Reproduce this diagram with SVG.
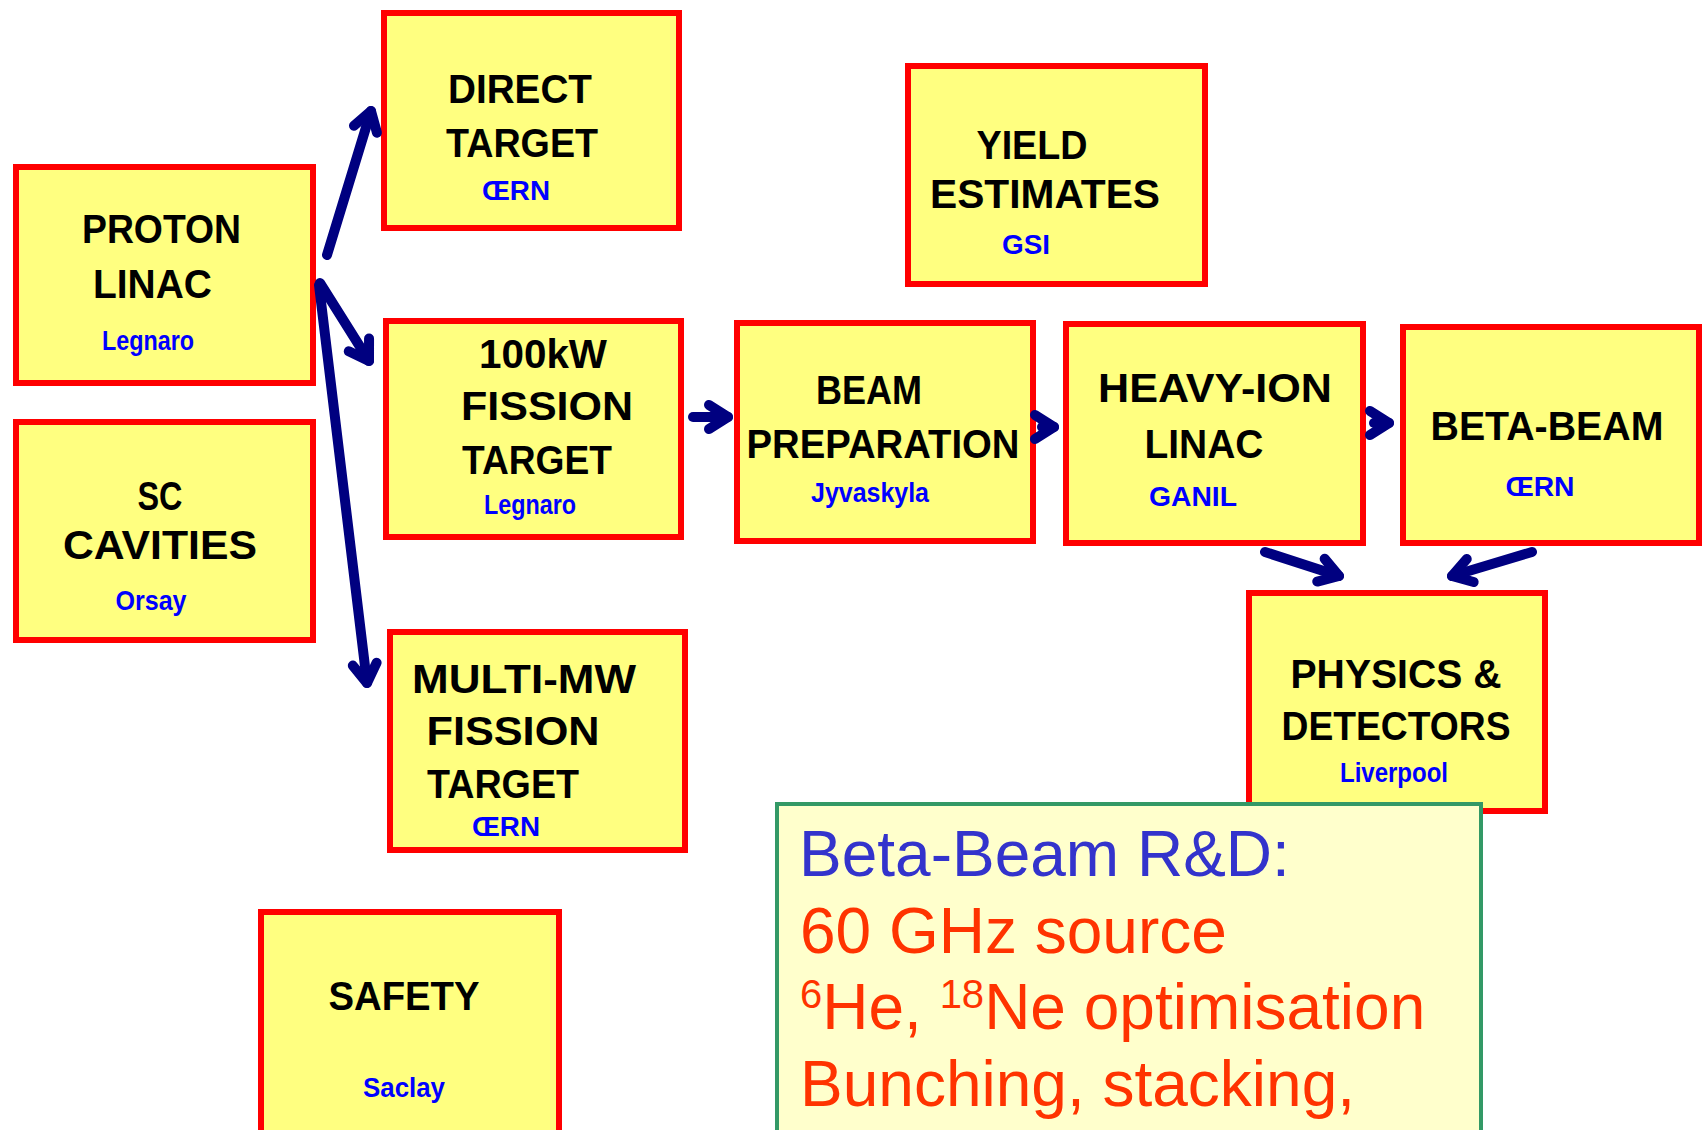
<svg xmlns="http://www.w3.org/2000/svg" width="1703" height="1130" viewBox="0 0 1703 1130">
<style>
.box{fill:#ffff80;stroke:#ff0000;stroke-width:6}
.lbl{font-family:"Liberation Sans",Arial,sans-serif;font-weight:bold;font-size:40px;fill:#000;text-anchor:middle}
.sub{font-family:"Liberation Sans",Arial,sans-serif;font-weight:bold;font-size:27px;fill:#0000ff;text-anchor:middle}
.conn{fill:none;stroke:#000080;stroke-width:10;stroke-linecap:round;stroke-linejoin:round;marker-end:url(#ah)}
.note{fill:#ffffcc;stroke:#339966;stroke-width:4}
.nt{font-family:"Liberation Sans",Arial,sans-serif;font-size:64px}
</style>
<defs>
<marker id="ah" markerUnits="userSpaceOnUse" orient="auto" viewBox="-30 -30 60 60" markerWidth="60" markerHeight="60" refX="0" refY="0">
<path d="M-19,-12 L0,0 L-19,12" fill="none" stroke="#000080" stroke-width="10" stroke-linecap="round" stroke-linejoin="round"/>
</marker>
</defs>
<rect width="1703" height="1130" fill="#ffffff"/>

<g id="proton-linac">
<rect class="box" x="16" y="167" width="297" height="216"/>
<text class="lbl" x="161.5" y="243" textLength="159" lengthAdjust="spacingAndGlyphs">PROTON</text>
<text class="lbl" x="152.5" y="298" textLength="119" lengthAdjust="spacingAndGlyphs">LINAC</text>
<text class="sub" x="148" y="350" textLength="92" lengthAdjust="spacingAndGlyphs">Legnaro</text>
</g>

<g id="direct-target">
<rect class="box" x="384" y="13" width="295" height="215"/>
<text class="lbl" x="520" y="103" textLength="144" lengthAdjust="spacingAndGlyphs">DIRECT</text>
<text class="lbl" x="522" y="157" textLength="152" lengthAdjust="spacingAndGlyphs">TARGET</text>
<text class="sub" x="516" y="200" textLength="68" lengthAdjust="spacingAndGlyphs">ŒRN</text>
</g>

<g id="yield-estimates">
<rect class="box" x="908" y="66" width="297" height="218"/>
<text class="lbl" x="1032" y="159" textLength="111" lengthAdjust="spacingAndGlyphs">YIELD</text>
<text class="lbl" x="1045" y="208" textLength="230" lengthAdjust="spacingAndGlyphs">ESTIMATES</text>
<text class="sub" x="1026" y="254" textLength="48" lengthAdjust="spacingAndGlyphs">GSI</text>
</g>

<g id="sc-cavities">
<rect class="box" x="16" y="422" width="297" height="218"/>
<text class="lbl" x="160" y="510" textLength="45" lengthAdjust="spacingAndGlyphs">SC</text>
<text class="lbl" x="160" y="559" textLength="194" lengthAdjust="spacingAndGlyphs">CAVITIES</text>
<text class="sub" x="151" y="610" textLength="71" lengthAdjust="spacingAndGlyphs">Orsay</text>
</g>

<g id="fission-100kw">
<rect class="box" x="386" y="321" width="295" height="216"/>
<text class="lbl" x="543" y="368" textLength="128" lengthAdjust="spacingAndGlyphs">100kW</text>
<text class="lbl" x="547" y="420" textLength="172" lengthAdjust="spacingAndGlyphs">FISSION</text>
<text class="lbl" x="537" y="474" textLength="150" lengthAdjust="spacingAndGlyphs">TARGET</text>
<text class="sub" x="530" y="514" textLength="92" lengthAdjust="spacingAndGlyphs">Legnaro</text>
</g>

<g id="beam-preparation">
<rect class="box" x="737" y="323" width="296" height="218"/>
<text class="lbl" x="869" y="404" textLength="106" lengthAdjust="spacingAndGlyphs">BEAM</text>
<text class="lbl" x="883" y="458" textLength="273" lengthAdjust="spacingAndGlyphs">PREPARATION</text>
<text class="sub" x="870" y="502" textLength="118" lengthAdjust="spacingAndGlyphs">Jyvaskyla</text>
</g>

<g id="heavy-ion-linac">
<rect class="box" x="1066" y="324" width="297" height="219"/>
<text class="lbl" x="1215" y="402" textLength="234" lengthAdjust="spacingAndGlyphs">HEAVY-ION</text>
<text class="lbl" x="1204" y="458" textLength="119" lengthAdjust="spacingAndGlyphs">LINAC</text>
<text class="sub" x="1193" y="506" textLength="88" lengthAdjust="spacingAndGlyphs">GANIL</text>
</g>

<g id="beta-beam">
<rect class="box" x="1403" y="327" width="296" height="216"/>
<text class="lbl" x="1547" y="440" textLength="233" lengthAdjust="spacingAndGlyphs">BETA-BEAM</text>
<text class="sub" x="1540" y="496" textLength="69" lengthAdjust="spacingAndGlyphs">ŒRN</text>
</g>

<g id="multi-mw">
<rect class="box" x="390" y="632" width="295" height="218"/>
<text class="lbl" x="524" y="693" textLength="224" lengthAdjust="spacingAndGlyphs">MULTI-MW</text>
<text class="lbl" x="513" y="745" textLength="173" lengthAdjust="spacingAndGlyphs">FISSION</text>
<text class="lbl" x="503" y="798" textLength="152" lengthAdjust="spacingAndGlyphs">TARGET</text>
<text class="sub" x="506" y="836" textLength="68" lengthAdjust="spacingAndGlyphs">ŒRN</text>
</g>

<g id="physics-detectors">
<rect class="box" x="1249" y="593" width="296" height="218"/>
<text class="lbl" x="1396" y="688" textLength="211" lengthAdjust="spacingAndGlyphs">PHYSICS &amp;</text>
<text class="lbl" x="1396" y="740" textLength="229" lengthAdjust="spacingAndGlyphs">DETECTORS</text>
<text class="sub" x="1394" y="782" textLength="108" lengthAdjust="spacingAndGlyphs">Liverpool</text>
</g>

<g id="safety">
<rect class="box" x="261" y="912" width="298" height="260"/>
<text class="lbl" x="404" y="1010" textLength="151" lengthAdjust="spacingAndGlyphs">SAFETY</text>
<text class="sub" x="404" y="1097" textLength="82" lengthAdjust="spacingAndGlyphs">Saclay</text>
</g>

<g id="connectors">
<path class="conn" d="M327,255 L371,111"/>
<path class="conn" d="M320,283 L369,361"/>
<path class="conn" d="M319,285 L367,683"/>
<path class="conn" d="M693,417 L728,417"/>
<path class="conn" d="M1042,427 L1054,427"/>
<path class="conn" d="M1374,423 L1389,423"/>
<path class="conn" d="M1265,552 L1339,576"/>
<path class="conn" d="M1532,552 L1452,576"/>
</g>

<g id="rd-note">
<rect class="note" x="777" y="804" width="704" height="400"/>
<text class="nt" x="799" y="876" fill="#3333cc">Beta-Beam R&amp;D:</text>
<text class="nt" x="800" y="953" fill="#ff3300">60 GHz source</text>
<text class="nt" x="800" y="1029" fill="#ff3300"><tspan font-size="40" dy="-21">6</tspan><tspan dy="21">He, </tspan><tspan font-size="40" dy="-21">18</tspan><tspan dy="21">Ne optimisation</tspan></text>
<text class="nt" x="800" y="1106" fill="#ff3300">Bunching, stacking,</text>
</g>
</svg>
